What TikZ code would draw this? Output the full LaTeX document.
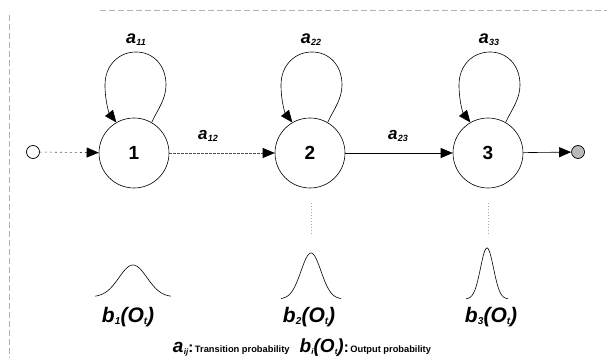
\documentclass[tikz,border=0pt]{standalone}
\usepackage{fontspec}
\setmainfont{Liberation Sans}
\usetikzlibrary{arrows.meta,calc}
\newcommand{\sub}[3]{{\fontsize{#3}{#3}\selectfont\bfseries\itshape #1\kern0.3pt\raisebox{-0.12em}{\fontsize{9}{9}\selectfont #2}}}
\newcommand{\bout}[1]{{\fontsize{21}{21}\selectfont\bfseries\itshape b\kern0.3pt\raisebox{-0.1em}{\fontsize{10}{10}\selectfont #1}(O\raisebox{-0.1em}{\fontsize{10}{10}\selectfont t})}}
\begin{document}
\begin{tikzpicture}[x=1pt,y=-1pt,
  state/.style={circle,draw,line width=0.6pt,minimum size=70pt,inner sep=0pt,font=\fontsize{19}{19}\selectfont\bfseries},
  term/.style={circle,draw,line width=0.7pt,minimum size=13pt,inner sep=0pt},
  arr/.style={line width=0.6pt,-{Triangle[length=12pt,width=10pt,color=black]}},
  lbl/.style={inner sep=0pt},
  gauss/.style={line width=0.6pt},
  frame/.style={gray!60,line width=0.5pt,dash pattern=on 6pt off 3pt}]
\useasboundingbox (0,0) rectangle (607,358);
% faint frame
\draw[frame] (100,10) -- (607,10);
\draw[frame] (9,15) -- (9,358);
% nodes
\node[term] (st) at (33,152) {};
\node[state] (s1) at (134,153) {1};
\node[state] (s2) at (310,153) {2};
\node[state] (s3) at (488,153) {3};
\node[term,fill=gray!55] (en) at (578,152) {};
% edges
\draw[arr,gray!70!black,dash pattern=on 2pt off 3pt] (st) -- (s1);
\draw[arr,gray!60!black,dash pattern=on 3pt off 1pt] (s1) -- (s2);
\draw[arr] (s2) -- (s3);
\draw[arr] (s3) -- (en);
% self loops
\foreach \s in {s1,s2,s3}{
  \draw[arr] (\s.60)
    .. controls ($(\s)+(24,-44)$) and ($(\s)+(32,-54)$) .. ($(\s)+(32,-68)$)
    .. controls ($(\s)+(32,-88)$) and ($(\s)+(19,-101)$) .. ($(\s)+(2,-101)$)
    .. controls ($(\s)+(-15,-101)$) and ($(\s)+(-29,-88)$) .. ($(\s)+(-29,-68)$)
    .. controls ($(\s)+(-29,-52)$) and ($(\s)+(-25,-40)$) .. (\s.120);
}
% labels
\node[lbl] (l11) at (136,40) {\sub{a}{11}{18}};
\node[lbl] (l22) at (311,40) {\sub{a}{22}{18}};
\node[lbl] (l33) at (489,40) {\sub{a}{33}{18}};
\node[lbl] (l12) at (208,136) {\sub{a}{12}{17}};
\node[lbl] (l23) at (398,136) {\sub{a}{23}{17}};
% dotted guides
\draw[gray!70,line width=0.6pt,dash pattern=on 1pt off 2pt] (311,203) -- (311,235);
\draw[gray!70,line width=0.6pt,dash pattern=on 1pt off 2pt] (488,203) -- (488,235);
% gaussians
\draw[gauss] plot[domain=-38:38,samples=80] ({\x+133},{297-32*exp(-((\x/14)^2)/2)});
\draw[gauss] plot[domain=-30:30,samples=80] ({\x+311},{299-46*exp(-((\x/10)^2)/2)});
\draw[gauss] plot[domain=-21:21,samples=80] ({\x+487},{299-51*exp(-((\x/6.5)^2)/2)});
% output labels
\node[lbl] (b1) at (128,317) {\bout{1}};
\node[lbl] (b2) at (309,317) {\bout{2}};
\node[lbl] (b3) at (491,317) {\bout{3}};
% legend
\node[lbl] (leg) at (302,348) {{\fontsize{19}{19}\selectfont\bfseries\itshape a\kern0.3pt\raisebox{-0.1em}{\fontsize{8}{8}\selectfont ij}}{\fontsize{15}{15}\selectfont\bfseries :}\,{\fontsize{9.3}{9.3}\selectfont\bfseries Transition probability}\quad{\fontsize{19}{19}\selectfont\bfseries\itshape b\kern0.3pt\raisebox{-0.1em}{\fontsize{8}{8}\selectfont i}(O\raisebox{-0.1em}{\fontsize{8}{8}\selectfont t})}{\fontsize{15}{15}\selectfont\bfseries :}\,{\fontsize{9.3}{9.3}\selectfont\bfseries Output probability}};
\end{tikzpicture}
\end{document}
